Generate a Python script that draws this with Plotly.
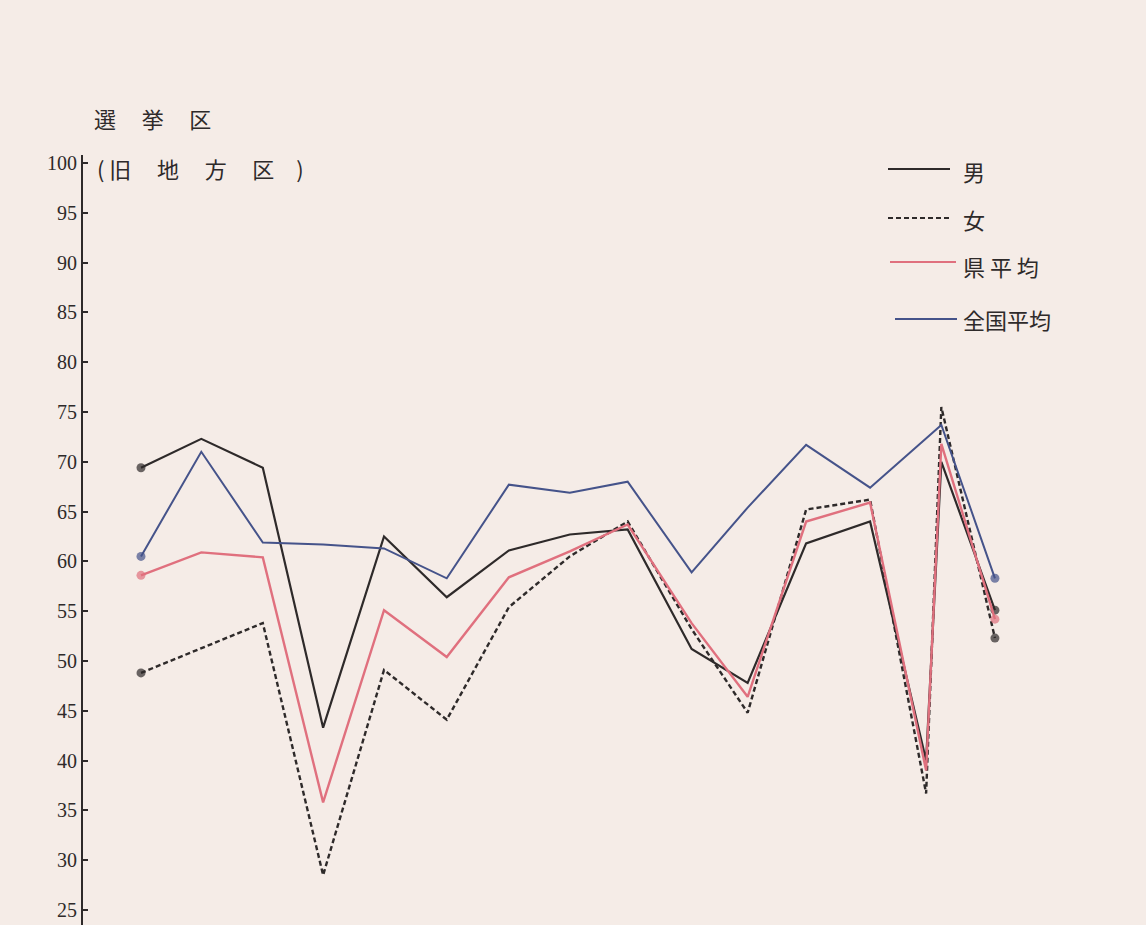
import plotly.graph_objects as go

# ---------------- data ----------------
# relative horizontal position of each election district (16 districts)
district_pos = [0, 0.99, 2.0, 2.99, 3.99, 5.02, 6.04, 7.04, 7.99, 9.04, 9.96, 10.92, 11.97, 12.89, 13.14, 14.02]

male = [69.4, 72.3, 69.4, 43.3, 62.5, 56.4, 61.1, 62.7, 63.2, 51.2, 47.8, 61.8, 64.0, 40.0, 70.0, 55.1]
female = [48.8, 51.3, 53.8, 28.5, 49.1, 44.1, 55.4, 60.5, 64.0, 53.2, 44.8, 65.2, 66.2, 36.7, 75.5, 52.3]
pref_avg = [58.6, 60.9, 60.4, 35.8, 55.1, 50.4, 58.4, 61.0, 63.7, 53.8, 46.4, 64.0, 65.9, 39.0, 71.8, 54.2]
national_avg = [60.5, 71.0, 61.9, 61.7, 61.3, 58.3, 67.7, 66.9, 68.0, 58.9, 65.4, 71.7, 67.4, 72.3, 73.7, 58.3]

y_ticks = [25, 30, 35, 40, 45, 50, 55, 60, 65, 70, 75, 80, 85, 90, 95, 100]

series_names = ["男", "女", "県 平 均", "全国平均"]

# ---------------- layout constants ----------------
W, H = 1146, 925
ML, MR, MT, MB = 83, 0, 155, 0
PW, PH = W - ML - MR, H - MT - MB

BG = "#f5ece7"
INK = "#2e2a2a"
PINK = "#e0707e"
BLUE = "#45538a"
FONT_CJK = "Noto Sans CJK JP"


def px(x):
    return (x - ML) / PW


def py(y):
    return (H - MB - y) / PH


end_sizes = [9] + [0] * (len(district_pos) - 2) + [9]

fig = go.Figure()

styles = [
    (male, INK, "solid", 2.2),
    (female, INK, "5px,3px", 2.4),
    (pref_avg, PINK, "solid", 2.4),
    (national_avg, BLUE, "solid", 2.0),
]
for (vals, col, dash, w), name in zip(styles, series_names):
    fig.add_trace(go.Scatter(
        x=district_pos, y=vals, name=name, mode="lines+markers",
        line=dict(color=col, width=w, dash=dash),
        marker=dict(color=col, size=end_sizes, line=dict(width=0)),
        showlegend=False, hoverinfo="skip",
    ))

# custom legend (line samples + labels), placed at the upper right
legend_rows = [
    (series_names[0], INK, "solid", 888, 950, 169, 171),
    (series_names[1], INK, "5px,3px", 888, 952, 218, 219),
    (series_names[2], PINK, "solid", 890, 956, 262, 266),
    (series_names[3], BLUE, "solid", 895, 957, 319, 319),
]
shapes = []
annotations = []
for name, col, dash, x0, x1, yl, yt in legend_rows:
    shapes.append(dict(type="line", xref="paper", yref="paper",
                       x0=px(x0), x1=px(x1), y0=py(yl), y1=py(yl),
                       line=dict(color=col, width=2.2, dash=dash)))
    annotations.append(dict(text=name, xref="paper", yref="paper",
                            x=px(961), y=py(yt), xanchor="left", yanchor="middle",
                            showarrow=False,
                            font=dict(family=FONT_CJK, size=22, color=INK)))

# headings
annotations.append(dict(text="選\u3000\u2006挙\u3000\u2006区", xref="paper", yref="paper",
                        x=px(92), y=py(118), xanchor="left", yanchor="middle",
                        showarrow=False, font=dict(family=FONT_CJK, size=22, color=INK)))
annotations.append(dict(text="( 旧\u3000\u2006地\u3000\u2006方\u3000\u2006区\u3000)", xref="paper", yref="paper",
                        x=px(95), y=py(168), xanchor="left", yanchor="middle",
                        showarrow=False, font=dict(family=FONT_CJK, size=22, color=INK)))

fig.update_layout(
    width=W, height=H, autosize=False,
    margin=dict(l=ML, r=MR, t=MT, b=MB, pad=0),
    paper_bgcolor=BG, plot_bgcolor=BG,
    shapes=shapes, annotations=annotations,
    xaxis=dict(range=[-0.952, 16.50], visible=False, fixedrange=True),
    yaxis=dict(range=[23.49, 100.80], tickvals=y_ticks, ticktext=[str(v) for v in y_ticks],
               showgrid=False, zeroline=False, showline=True, linecolor=INK, linewidth=2,
               ticks="inside", ticklen=5, tickwidth=2, tickcolor=INK,
               tickfont=dict(family="Liberation Serif", size=20, color=INK),
               ticklabelstandoff=0, fixedrange=True),
)

fig.write_html("out.html", config={"displayModeBar": False},
               post_script="document.body.style.margin='0';document.body.style.background='%s';" % BG)
